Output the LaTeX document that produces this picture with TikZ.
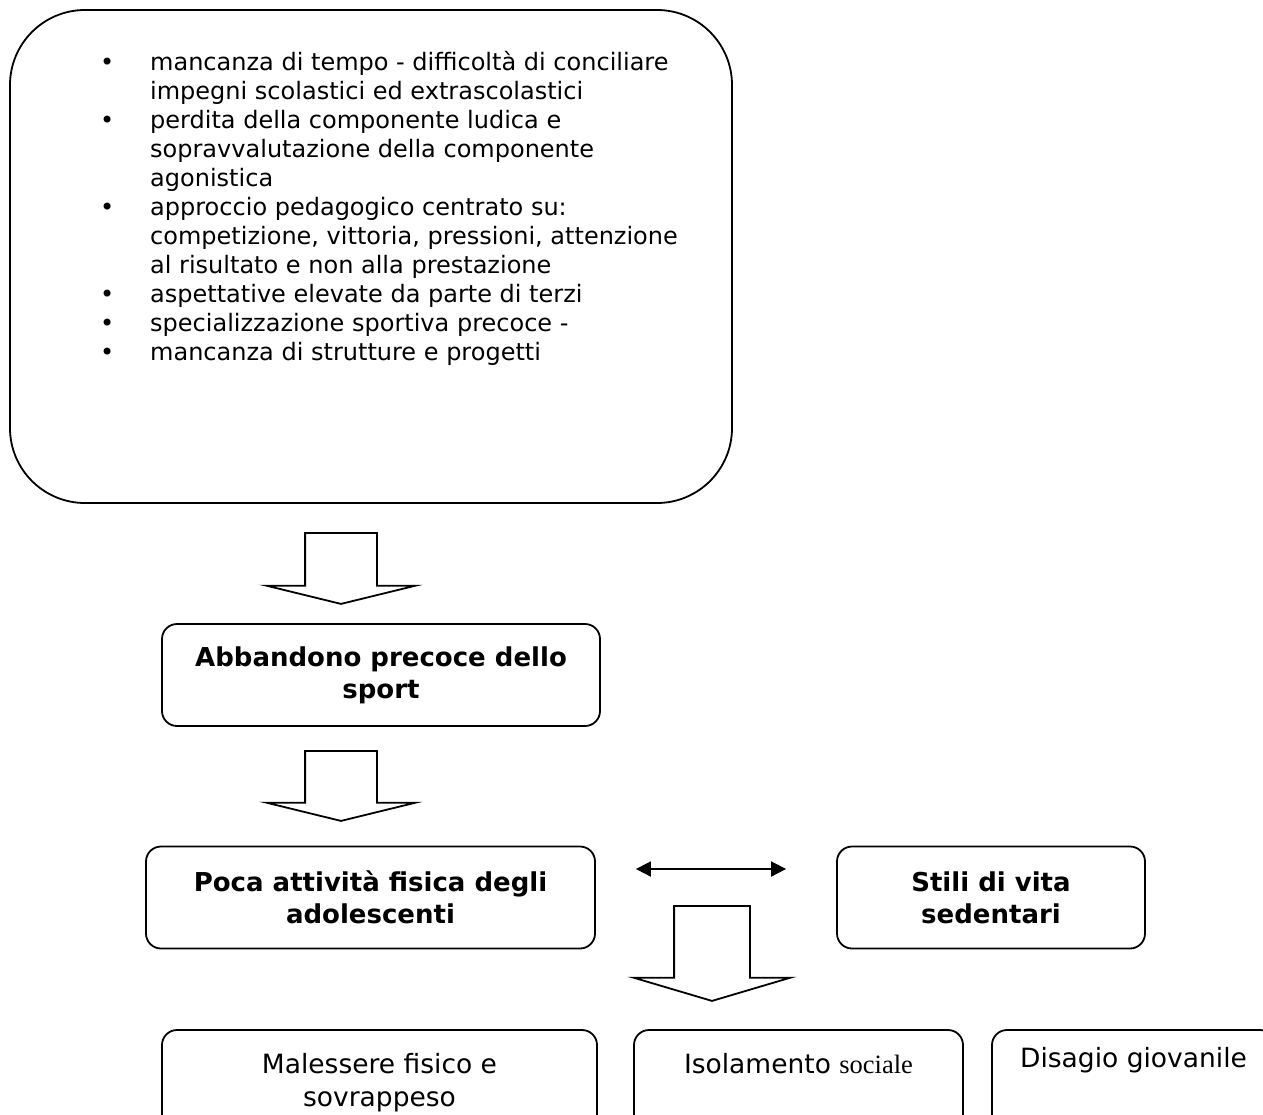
\documentclass[tikz,border=0pt]{standalone}
\usepackage{fontspec}
\setsansfont{DejaVu Sans}
\newfontfamily\serifa{Liberation Serif}
\usetikzlibrary{positioning,shapes.arrows,arrows.meta}

\begin{document}
\begin{tikzpicture}[
    x=1pt, y=-1pt,
    font=\sffamily,
    >={Triangle[length=15pt,width=15pt]},
    box/.style={
		rectangle,
		rounded corners=15pt,
		draw=black,
		line width=1.8pt,
		align=center,
		inner sep=0pt
	},
	causa/.style={
		box,
		rounded corners=75pt,
		minimum width=722pt,
		minimum height=493pt
	},
	stato/.style={
		box,
		minimum height=102pt,
		font=\sffamily\bfseries\fontsize{26}{32}\selectfont
	},
	effetto/.style={
		box,
		minimum height=110pt
	},
	elenco/.style={
		inner sep=0pt,
		font=\sffamily\fontsize{24}{29}\selectfont
	},
	testo/.style={
		inner sep=0pt,
		align=center,
		font=\sffamily\fontsize{26.5}{33}\selectfont
	},
	freccia/.style={
		single arrow,
		draw=black,
		line width=1.8pt,
		rotate=-90,
		inner xsep=0pt,
		anchor=tail
	}
  ]
  \useasboundingbox (0,0) rectangle (1263,1114);
  \clip (0,0) rectangle (1263,1114);

  % the causes
  \node [causa] (cause) at (371,256.5) {};
  \node [elenco, anchor=north west] (lista) at (100,50)
 {%
 \begin{tabular}{@{}p{50pt}@{}l@{}}
  \textbullet & mancanza di tempo - difficoltà di conciliare\\
   & impegni scolastici ed extrascolastici\\
  \textbullet & perdita della componente ludica e\\
   & sopravvalutazione della componente\\
   & agonistica\\
  \textbullet & approccio pedagogico centrato su:\\
   & competizione, vittoria, pressioni, attenzione\\
   & al risultato e non alla prestazione\\
  \textbullet & aspettative elevate da parte di terzi\\
  \textbullet & specializzazione sportiva precoce -\\
  \textbullet & mancanza di strutture e progetti
 \end{tabular}
 };

  % the states
  \node [stato, minimum width=438pt] (abbandono) at (381,675)
   {Abbandono precoce dello\\sport};
  \node [stato, minimum width=449pt] (poca) at (370.5,897.5)
   {Poca attività fisica degli\\adolescenti};
  \node [stato, minimum width=308pt] (stili) at (991,897.5)
   {Stili di vita\\sedentari};

  % the effects
  \node [effetto, minimum width=435pt] (malessere) at (379.5,1085) {};
  \node [effetto, minimum width=329pt] (isolamento) at (798.5,1085) {};
  \node [effetto, minimum width=283pt] (disagio) at (1133.5,1085) {};
  \node [testo, below=24pt of malessere.north] (malessereT)
   {Malessere fisico e\\sovrappeso};
  \node [testo, below=24pt of isolamento.north] (isolamentoT)
   {Isolamento {\serifa sociale}};
  \node [testo, below=18pt of disagio.north] (disagioT)
   {Disagio giovanile};

  % block arrows
  \node [freccia, inner ysep=35pt, minimum height=71pt, minimum width=147pt,
    single arrow head extend=38.5pt, single arrow tip angle=152.5] (f1) at (341,532) {};
  \node [freccia, inner ysep=35pt, minimum height=70pt, minimum width=147pt,
    single arrow head extend=38.5pt, single arrow tip angle=152.5] (f2) at (341,750) {};
  \node [freccia, inner ysep=37pt, minimum height=95pt, minimum width=155pt,
    single arrow head extend=40.5pt, single arrow tip angle=147] (f3) at (712,905) {};

  \draw [<->, line width=1.8pt, shorten <=40pt, shorten >=50pt]
    ([yshift=28.5pt]poca.east) -- ([yshift=28.5pt]stili.west);

\end{tikzpicture}
\end{document}
